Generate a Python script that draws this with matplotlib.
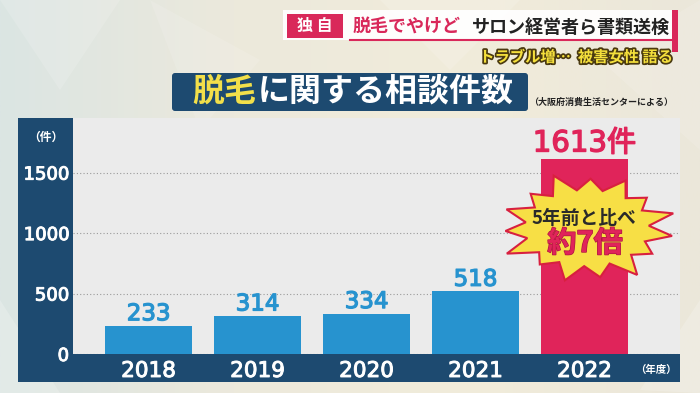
import numpy as np
import matplotlib
matplotlib.use("Agg")
import matplotlib.pyplot as plt
from matplotlib.patches import Rectangle, FancyBboxPatch, Polygon
from matplotlib.colors import LinearSegmentedColormap
import matplotlib.patheffects as pe

plt.rcParams['font.family'] = ['Noto Sans CJK JP', 'DejaVu Sans']

# データ（大阪府消費生活センター）
years = ["2018", "2019", "2020", "2021", "2022"]
counts = [233, 314, 334, 518, 1613]
bar_colors = ["#2793cf", "#2793cf", "#2793cf", "#2793cf", "#e0245a"]
yticks = [0, 500, 1000, 1500]

NAVY = "#1d4a70"
BLUE = "#2793cf"
RED = "#e0245a"


def thick(c, w=0.7):
    # 数字を少しだけ太らせる
    return [pe.withStroke(linewidth=w, foreground=c)]


fig = plt.figure(figsize=(7, 3.93), dpi=100)

# 背景（ピクセル座標）
bg = fig.add_axes([0, 0, 1, 1], zorder=0)
bg.set_xlim(0, 700); bg.set_ylim(393, 0); bg.axis("off")
cmap = LinearSegmentedColormap.from_list("bgc", ["#dbe5e3", "#ece9dc", "#f1ecda", "#ebe7da"])
grad = np.linspace(0, 1, 256).reshape(1, -1)
bg.imshow(grad, cmap=cmap, extent=[0, 700, 393, 0], aspect="auto")
# うっすらした多角形の模様
for pts, a in [([(0, 0), (120, 0), (60, 90)], 0.15), ([(150, 0), (260, 60), (200, 130)], 0.12),
               ([(380, 0), (520, 0), (450, 70)], 0.15), ([(600, 60), (700, 0), (700, 150)], 0.12),
               ([(0, 300), (60, 393), (0, 393)], 0.2), ([(640, 390), (700, 300), (700, 393)], 0.2)]:
    bg.add_patch(Polygon(pts, closed=True, facecolor="white", edgecolor="none", alpha=a))

# 濃紺パネル
bg.add_patch(Rectangle((18, 118), 662, 264, facecolor=NAVY, edgecolor="none"))

# ヘッダー
bg.add_patch(Rectangle((283, 10), 393, 30, facecolor="white", edgecolor="none", alpha=0.95))
bg.add_patch(Rectangle((287, 14), 56, 24, facecolor="#d9285a", edgecolor="none"))
bg.add_patch(Rectangle((672, 10), 6, 42, facecolor="#d9285a", edgecolor="none"))
bg.plot([350, 676], [40, 40], color="#d9285a", lw=1.5)
bg.text(315, 26, "独 自", color="white", fontsize=11.5, fontweight="bold", ha="center", va="center")
bg.text(353, 27, "脱毛でやけど", color="#d9285a", fontsize=13, fontweight="bold", ha="left", va="center")
bg.text(472, 27, "サロン経営者ら書類送検", color="#222222", fontsize=13, fontweight="bold", ha="left", va="center")
bg.text(673, 57, "トラブル増…  被害女性 語る", color="#f5e03c", fontsize=11, fontweight="bold",
        ha="right", va="center",
        path_effects=[pe.withStroke(linewidth=2.5, foreground="#4a3a10")])

# タイトル
bg.add_patch(FancyBboxPatch((172, 73), 356, 38, boxstyle="round,pad=0,rounding_size=3",
                            facecolor=NAVY, edgecolor="none"))
bg.text(192, 92, "脱毛", color="#f2df4a", fontsize=23, fontweight="bold", ha="left", va="center")
bg.text(258, 92, "に関する相談件数", color="white", fontsize=23, fontweight="bold", ha="left", va="center")
bg.text(601, 102, "（大阪府消費生活センターによる）", color="#222222", fontsize=6.5,
        fontweight="bold", ha="center", va="center")

# メインの棒グラフ
ax = fig.add_axes([73 / 700, (393 - 354) / 393, 607 / 700, 236 / 393], zorder=1)
ax.set_facecolor("#ebebeb")
ax.bar(range(len(years)), counts, width=0.8, color=bar_colors, zorder=2)
ax.set_xlim(-0.693, 4.876)
ax.set_ylim(0, 1952)
ax.set_yticks(yticks)
ax.set_yticklabels([str(t) for t in yticks], color="white", fontsize=13, family="DejaVu Sans")
ax.set_xticks(range(len(years)))
ax.set_xticklabels(years, color="white", fontsize=15.5, family="DejaVu Sans")
for lab in ax.get_yticklabels() + ax.get_xticklabels():
    lab.set_path_effects(thick("white"))
ax.tick_params(axis="both", length=0)
ax.tick_params(axis="y", pad=3)
ax.tick_params(axis="x", pad=5)
for s in ax.spines.values():
    s.set_visible(False)
ax.grid(axis="y", linestyle=(0, (1, 2)), color="#9a9a9a", lw=0.8, zorder=1)
ax.set_axisbelow(True)

for i, v in enumerate(counts[:-1]):
    ax.annotate(str(v), (i, v), xytext=(0, 4), textcoords="offset points", ha="center",
                va="baseline", color=BLUE, fontsize=16.5, family="DejaVu Sans",
                path_effects=thick(BLUE, 0.9))
ax.annotate(f"{counts[-1]}件", (len(counts) - 1, counts[-1]), xytext=(0, 5.4),
            textcoords="offset points", ha="center", va="baseline", color=RED,
            fontsize=21, family=["DejaVu Sans", "Noto Sans CJK JP"],
            path_effects=thick(RED, 1.0))

# 上に重ねる注釈
ov = fig.add_axes([0, 0, 1, 1], zorder=3)
ov.set_xlim(0, 700); ov.set_ylim(393, 0); ov.axis("off")
ov.patch.set_alpha(0)
ov.text(46, 137, "（件）", color="white", fontsize=8.5, fontweight="bold", ha="center", va="center")
ov.text(656, 370, "（年度）", color="white", fontsize=7.5, fontweight="bold", ha="center", va="center")

# 爆発マーク
n = 15
ang = np.linspace(0, 2 * np.pi, 2 * n, endpoint=False) + 0.15
rad = np.where(np.arange(2 * n) % 2 == 0, 1.0, 0.72)
spike = np.array([1.0, 0.9, 1.06, 0.94, 1.02, 0.88, 1.05, 0.95, 1.0, 0.92, 1.06, 0.93, 1.0, 0.9, 1.04])
rad[::2] *= spike
cx, cy, rx, ry = 587, 228, 86, 53
star = np.column_stack([cx + rx * rad * np.cos(ang), cy + ry * rad * np.sin(ang)])
ov.add_patch(Polygon(star, closed=True, facecolor="#f7df45", edgecolor="#d8203f", lw=1.5))
ov.text(584, 218, "5年前と比べ", color="#2a2a2a", fontsize=13.5, fontweight="bold",
        ha="center", va="center")
ov.text(585, 243, "約7倍", color=RED, fontsize=21, fontweight="bold", ha="center", va="center",
        path_effects=[pe.withStroke(linewidth=1.0, foreground="#b01840")])

fig.savefig("out.png", dpi=100)
